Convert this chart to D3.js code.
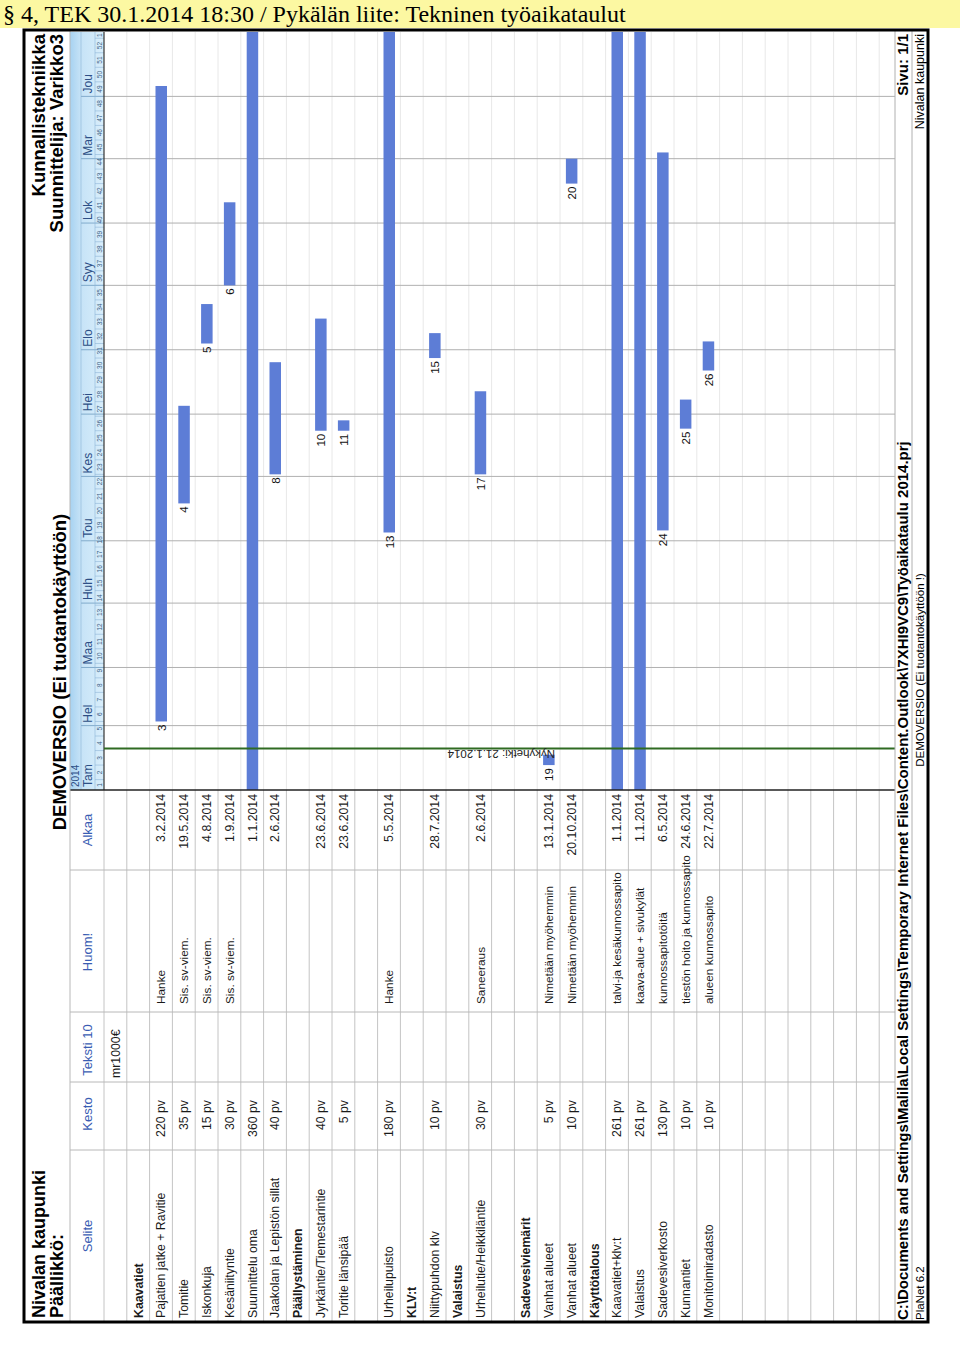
<!DOCTYPE html>
<html><head><meta charset="utf-8">
<script src="https://cdn.jsdelivr.net/npm/d3@7"></script>
<style>
body{margin:0;background:#fff}
svg{display:block}
text{font-family:"Liberation Sans",Arial,sans-serif}
</style>
</head><body>
<svg id="c" width="960" height="1356"></svg>
<script>
// ---------------- DATA ----------------
const docTitle = "§ 4, TEK 30.1.2014 18:30 / Pykälän liite: Tekninen työaikataulut";
const orgName = "Nivalan kaupunki";
const managerLabel = "Päällikkö:";
const demoTitle = "DEMOVERSIO (Ei tuotantokäyttöön)";
const deptName = "Kunnallistekniikka";
const plannerLabel = "Suunnittelija: Varikko3";
const columnTitles = ["Selite", "Kesto", "Teksti 10", "Huom!", "Alkaa"];
const yearLabel = "2014";
const monthNames = ["Tam","Hel","Maa","Huh","Tou","Kes","Hei","Elo","Syy","Lok","Mar","Jou"];

const rowLabels = ["", "Kaavatiet", "Pajatien jatke + Ravitie", "Tomitie", "Iskonkuja", "Kesäniityntie",
  "Suunnittelu oma", "Jaakolan ja Lepistön sillat", "Päällystäminen", "Jyrkäntie/Tiemestarintie",
  "Toritie länsipää", "", "Urheilupuisto", "KLV:t", "Niittypuhdon klv", "Valaistus",
  "Urheilutie/Heikkiläntie", "", "Sadevesiviemärit", "Vanhat alueet", "Vanhat alueet", "Käyttötalous",
  "Kaavatiet+klv:t", "Valaistus", "Sadevesiverkosto", "Kunnantiet", "Monitoimiradasto"];
const groupRows = [1, 8, 13, 15, 18, 21];
const durations = ["", "", "220 pv", "35 pv", "15 pv", "30 pv", "360 pv", "40 pv", "", "40 pv", "5 pv", "",
  "180 pv", "", "10 pv", "", "30 pv", "", "", "5 pv", "10 pv", "", "261 pv", "261 pv", "130 pv", "10 pv", "10 pv"];
const text10 = ["mr1000€"];
const notes = ["", "", "Hanke", "Sis. sv-viem.", "Sis. sv-viem.", "Sis. sv-viem.", "", "", "", "", "", "",
  "Hanke", "", "", "", "Saneeraus", "", "", "Nimetään myöhemmin", "Nimetään myöhemmin", "",
  "talvi-ja kesäkunnossapito", "kaava-alue + sivukylät", "kunnossapitotöitä", "tiestön hoito ja kunnossapito",
  "alueen kunnossapito"];
const startDates = ["", "", "3.2.2014", "19.5.2014", "4.8.2014", "1.9.2014", "1.1.2014", "2.6.2014", "",
  "23.6.2014", "23.6.2014", "", "5.5.2014", "", "28.7.2014", "", "2.6.2014", "", "", "13.1.2014",
  "20.10.2014", "", "1.1.2014", "1.1.2014", "6.5.2014", "24.6.2014", "22.7.2014"];

// Gantt bars (row index, task number, end)
const taskRows = [2, 3, 4, 5, 6, 7, 9, 10, 12, 14, 16, 19, 20, 22, 23, 24, 25, 26];
const taskIds  = [3, 4, 5, 6, 7, 8, 10, 11, 13, 15, 17, 19, 20, 22, 23, 24, 25, 26];
const taskEnds = ["6.12.2014", "5.7.2014", "23.8.2014", "11.10.2014", "1.1.2015", "26.7.2014", "16.8.2014",
  "28.6.2014", "1.1.2015", "9.8.2014", "12.7.2014", "18.1.2014", "1.11.2014", "1.1.2015", "1.1.2015",
  "4.11.2014", "8.7.2014", "5.8.2014"];

const timeDomain = ["1.1.2014", "1.1.2015"];
const todayDate = "21.1.2014";
const todayLabel = "Nykyhetki: 21.1.2014";

const footerPath = "C:\\Documents and Settings\\Malila\\Local Settings\\Temporary Internet Files\\Content.Outlook\\7XHI9VC9\\Työaikataulu 2014.prj";
const footerPage = "Sivu: 1/1";
const footerApp = "PlaNet 6.2";
const footerDemo = "DEMOVERSIO (Ei tuotantokäyttöön !)";
const footerOrg = "Nivalan kaupunki";

// ---------------- LAYOUT ----------------
const parse = d3.timeParse("%d.%m.%Y");
const svg = d3.select("#c");

svg.append("rect").attr("x", 0).attr("y", 0).attr("width", 960).attr("height", 28).attr("fill", "#fcf8a2");
svg.append("text").attr("x", 3).attr("y", 22)
  .style("font-family", "'Liberation Serif','Times New Roman',serif").style("font-size", "24px")
  .attr("fill", "#000").text(docTitle);

const L = 24, T = 30, R = 928, B = 1322;
const W = B - T, H = R - L;
const g = svg.append("g").attr("transform", `translate(${L},${B}) rotate(-90)`);

const hdrTop = 46, yearBot = 57, monBot = 71, hdrBot = 80, rowH = 22.8, footTop = 871, foot2 = 888;
const colX = [0, 172, 240, 310, 452, 532];
const ganttL = colX[5], ganttR = W - 2;

const x = d3.scaleTime().domain(timeDomain.map(parse)).range([ganttL, ganttR]);
const rowTop = i => hdrBot + i * rowH;
const rowMid = i => rowTop(i) + rowH / 2;

// gradient for header
const defs = svg.append("defs");
const grad = defs.append("linearGradient").attr("id", "hg").attr("x1", 0).attr("y1", 0).attr("x2", 0).attr("y2", 1);
grad.append("stop").attr("offset", "0%").attr("stop-color", "#a7d2f1");
grad.append("stop").attr("offset", "32%").attr("stop-color", "#c6e3f7");
grad.append("stop").attr("offset", "100%").attr("stop-color", "#d9eefb");

g.append("rect").attr("x", ganttL).attr("y", hdrTop).attr("width", ganttR - ganttL).attr("height", hdrBot - hdrTop)
  .attr("fill", "url(#hg)");

// row lines (table part)
const nLines = Math.floor((footTop - hdrBot) / rowH);
const rowLines = d3.range(0, nLines + 1).map(k => hdrBot + k * rowH);
g.selectAll(".rl").data(rowLines).join("line")
  .attr("x1", 0).attr("x2", ganttL).attr("y1", d => d).attr("y2", d => d)
  .attr("stroke", "#c4c4c4").attr("stroke-width", 1);
// row lines (gantt part, faint)
g.selectAll(".gl").data(rowLines.slice(1)).join("line")
  .attr("x1", ganttL).attr("x2", ganttR).attr("y1", d => d).attr("y2", d => d)
  .attr("stroke", "#e8e8e8").attr("stroke-width", 1);

// month gridlines
const months = d3.timeMonth.range(x.domain()[0], x.domain()[1]);
g.selectAll(".mg").data(months.slice(1)).join("line")
  .attr("x1", d => x(d)).attr("x2", d => x(d)).attr("y1", hdrBot).attr("y2", footTop)
  .attr("stroke", "#b0b0b0").attr("stroke-width", 1);
g.selectAll(".mh").data(months.slice(1)).join("line")
  .attr("x1", d => x(d)).attr("x2", d => x(d)).attr("y1", yearBot).attr("y2", hdrBot)
  .attr("stroke", "#6f9cc0").attr("stroke-width", 0.8);
g.append("line").attr("x1", ganttL).attr("x2", ganttR).attr("y1", monBot).attr("y2", monBot)
  .attr("stroke", "#8fb6d6").attr("stroke-width", 0.6);
g.append("line").attr("x1", ganttL).attr("x2", ganttR).attr("y1", yearBot).attr("y2", yearBot)
  .attr("stroke", "#8fb6d6").attr("stroke-width", 0.6);

// month labels
g.selectAll(".ml").data(months).join("text")
  .attr("x", d => x(d) + 3).attr("y", monBot - 3)
  .style("font-size", "12px").attr("fill", "#2d4f86")
  .text((d, i) => monthNames[i]);
g.append("text").attr("x", ganttL + 3).attr("y", yearBot - 2).style("font-size", "10px")
  .attr("fill", "#2d4f86").text(yearLabel);

// week cells
const mondays = d3.timeMonday.range(x.domain()[0], x.domain()[1]);
const weekEdges = [x.domain()[0], ...mondays, x.domain()[1]];
const weekCells = d3.pairs(weekEdges).filter(p => p[1] > p[0]);
g.selectAll(".wl").data(mondays).join("line")
  .attr("x1", d => x(d)).attr("x2", d => x(d)).attr("y1", monBot).attr("y2", hdrBot)
  .attr("stroke", "#8fb6d6").attr("stroke-width", 0.6);
const wfmt = d3.timeFormat("%V");
g.selectAll(".wt").data(weekCells).join("text")
  .attr("x", d => (x(d[0]) + x(d[1])) / 2).attr("y", hdrBot - 2.5)
  .attr("text-anchor", "middle").style("font-size", "6.5px").attr("fill", "#3d5f85")
  .text(d => +wfmt(d[0]));

// header bottom line across gantt
g.append("line").attr("x1", ganttL).attr("x2", ganttR).attr("y1", hdrBot).attr("y2", hdrBot)
  .attr("stroke", "#333").attr("stroke-width", 1.2);

// bars
const tasks = taskRows.map((r, i) => ({row: r, id: taskIds[i], start: parse(startDates[r]), end: parse(taskEnds[i])}));
g.selectAll(".bar").data(tasks).join("rect")
  .attr("x", d => x(d.start)).attr("width", d => x(d.end) - x(d.start))
  .attr("y", d => rowMid(d.row) - 5.5).attr("height", 11.5)
  .attr("fill", "#5d7dd6");
g.selectAll(".bl").data(tasks.filter(d => x(d.start) > ganttL + 8)).join("text")
  .attr("x", d => x(d.start) - 3).attr("y", d => rowMid(d.row) + 4.5)
  .attr("text-anchor", "end").style("font-size", "11.5px").attr("fill", "#111")
  .text(d => d.id);

// today line
const tx = x(parse(todayDate));
g.append("line").attr("x1", tx).attr("x2", tx).attr("y1", hdrBot).attr("y2", footTop)
  .attr("stroke", "#2f6b22").attr("stroke-width", 2);
g.append("text").attr("transform", `translate(${tx - 2},${531}) rotate(-90)`)
  .style("font-size", "11.5px").attr("fill", "#222").text(todayLabel);

// column separators
g.selectAll(".cs").data(colX.slice(1, 5)).join("line")
  .attr("x1", d => d).attr("x2", d => d).attr("y1", hdrTop).attr("y2", footTop)
  .attr("stroke", "#b8b8b8").attr("stroke-width", 1);
g.append("line").attr("x1", ganttL).attr("x2", ganttL).attr("y1", hdrTop).attr("y2", footTop)
  .attr("stroke", "#222").attr("stroke-width", 1.5);

// header titles
const titleX = [86, 208, 272, 370, 492];
g.selectAll(".ht").data(columnTitles).join("text")
  .attr("x", (d, i) => titleX[i]).attr("y", 68).attr("text-anchor", "middle")
  .style("font-size", "13px").attr("fill", "#3a5db3").text(d => d);

// table cells
const rowsIdx = d3.range(rowLabels.length);
g.selectAll(".c1").data(rowsIdx).join("text")
  .attr("x", 4).attr("y", i => rowMid(i) + 4.3)
  .style("font-size", "12.3px").style("font-weight", i => groupRows.includes(i) ? "bold" : "normal")
  .attr("fill", "#1a1a1a").text(i => rowLabels[i]);
g.selectAll(".c2").data(rowsIdx).join("text")
  .attr("x", 222).attr("y", i => rowMid(i) + 4.3).attr("text-anchor", "end")
  .style("font-size", "12.3px").attr("fill", "#1a1a1a").text(i => durations[i]);
g.selectAll(".c3").data(text10).join("text")
  .attr("x", 244).attr("y", (d, i) => rowMid(i) + 4.3)
  .style("font-size", "12.3px").attr("fill", "#1a1a1a").text(d => d);
g.selectAll(".c4").data(rowsIdx).join("text")
  .attr("x", 318).attr("y", i => rowMid(i) + 4.3)
  .style("font-size", "11.8px").attr("fill", "#1a1a1a").text(i => notes[i]);
g.selectAll(".c5").data(rowsIdx).join("text")
  .attr("x", 528).attr("y", i => rowMid(i) + 4.3).attr("text-anchor", "end")
  .style("font-size", "12.3px").attr("fill", "#1a1a1a").text(i => startDates[i]);

// title band
g.append("line").attr("x1", 0).attr("x2", W).attr("y1", hdrTop).attr("y2", hdrTop)
  .attr("stroke", "#b8b8b8").attr("stroke-width", 1);
g.append("text").attr("x", 4).attr("y", 21).style("font-size", "18px").style("font-weight", "bold").text(orgName);
g.append("text").attr("x", 4).attr("y", 39).style("font-size", "18px").style("font-weight", "bold").text(managerLabel);
g.append("text").attr("x", 650).attr("y", 42).attr("text-anchor", "middle")
  .style("font-size", "18.5px").style("font-weight", "bold").text(demoTitle);
g.append("text").attr("x", W - 4).attr("y", 21).attr("text-anchor", "end")
  .style("font-size", "18.5px").style("font-weight", "bold").text(deptName);
g.append("text").attr("x", W - 4).attr("y", 39).attr("text-anchor", "end")
  .style("font-size", "18.5px").style("font-weight", "bold").text(plannerLabel);

// footer
[footTop, foot2].forEach(yv => g.append("line").attr("x1", 0).attr("x2", W).attr("y1", yv).attr("y2", yv)
  .attr("stroke", "#b0b0b0").attr("stroke-width", 1));
g.append("text").attr("x", 2).attr("y", 884).style("font-size", "15px").style("font-weight", "bold").text(footerPath);
g.append("text").attr("x", W - 4).attr("y", 884).attr("text-anchor", "end")
  .style("font-size", "15px").style("font-weight", "bold").text(footerPage);
g.append("text").attr("x", 2).attr("y", 899.5).style("font-size", "11.5px").text(footerApp);
g.append("text").attr("x", 652).attr("y", 899.5).attr("text-anchor", "middle").style("font-size", "11.5px").text(footerDemo);
g.append("text").attr("x", W - 4).attr("y", 899.5).attr("text-anchor", "end").style("font-size", "12.5px").text(footerOrg);

// frame
g.append("rect").attr("x", 0).attr("y", 0).attr("width", W).attr("height", H)
  .attr("fill", "none").attr("stroke", "#000").attr("stroke-width", 3);
</script>
</body></html>
